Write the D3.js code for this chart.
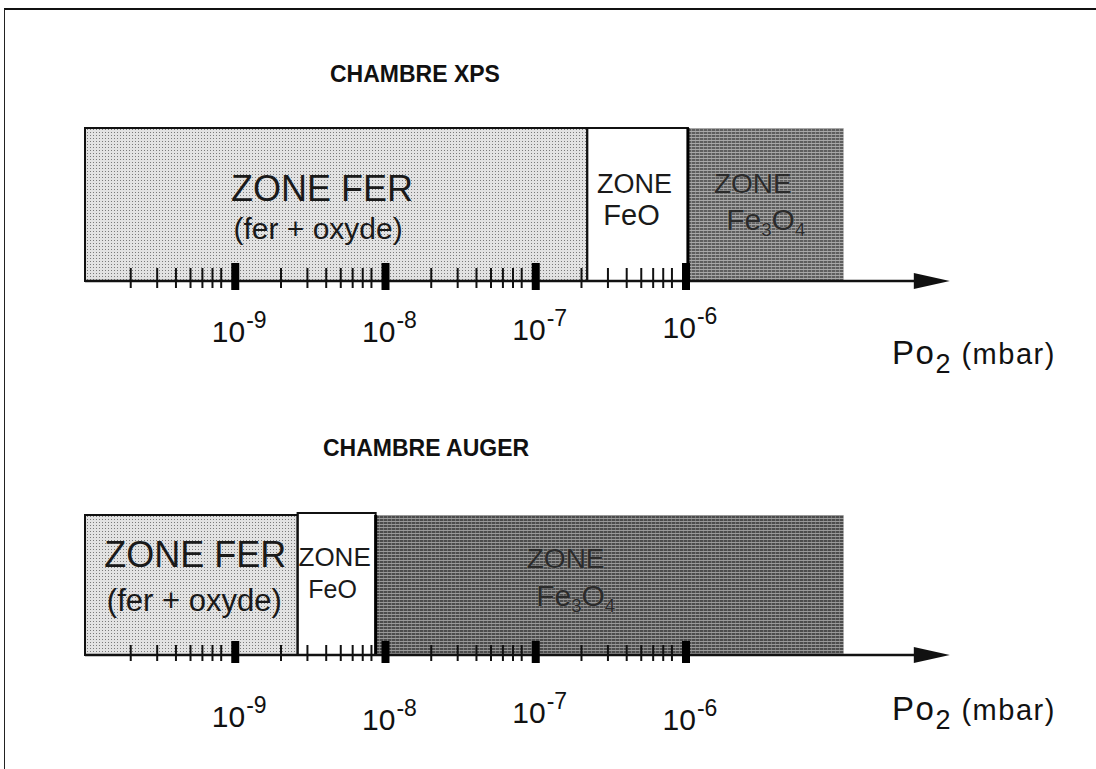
<!DOCTYPE html>
<html><head><meta charset="utf-8">
<script src="https://cdn.jsdelivr.net/npm/d3@7/dist/d3.min.js"></script>
<style>
html,body{margin:0;padding:0;background:#fff;}
svg{display:block;font-family:"Liberation Sans",Arial,Helvetica,sans-serif;}
</style></head>
<body>
<svg id="c" width="1096" height="769"></svg>
<script>
// ---- data ----
const chamberTitles = ["CHAMBRE XPS", "CHAMBRE AUGER"];
const zoneNames = ["FER", "FeO", "Fe3O4"];
const xpsBounds = [1e-10, 2.2e-7, 1.03e-6, 1.12e-5];      // zone limits, Po2 (mbar)
const augerBounds = [1e-10, 2.6e-9, 8.6e-9, 1.12e-5];
const majorTicks = [1e-9, 1e-8, 1e-7, 1e-6];
const majorExponents = ["-9", "-8", "-7", "-6"];
const minorMultipliers = [2, 3, 4, 5, 6, 7, 8];
const minorDecades = [1e-10, 1e-9, 1e-8, 1e-7];
const axisEnd = 5.7e-5;
const axisLabel = ["Po", "2", " (mbar)"];

// ---- setup ----
const svg = d3.select("#c");
const x = d3.scaleLog().domain([1e-10, 1e-6]).range([85, 686]);
const minorTicks = minorDecades.flatMap(d => minorMultipliers.map(m => d * m));

const defs = svg.append("defs");
const pl = defs.append("pattern").attr("id", "light").attr("width", 3).attr("height", 3).attr("patternUnits", "userSpaceOnUse");
pl.append("rect").attr("width", 3).attr("height", 3).attr("fill", "#e2e2e2");
pl.append("rect").attr("width", 1).attr("height", 1).attr("fill", "#7a7a7a");
const pd = defs.append("pattern").attr("id", "dark1").attr("width", 4).attr("height", 3).attr("patternUnits", "userSpaceOnUse");
pd.append("rect").attr("width", 4).attr("height", 3).attr("fill", "#5e5e5e");
pd.append("rect").attr("y", 2).attr("width", 4).attr("height", 1).attr("fill", "#a8a8a8");
pd.append("rect").attr("x", 3).attr("width", 1).attr("height", 2).attr("fill", "#8a8a8a");
const pd2 = defs.append("pattern").attr("id", "dark2").attr("width", 4).attr("height", 3).attr("patternUnits", "userSpaceOnUse");
pd2.append("rect").attr("width", 4).attr("height", 3).attr("fill", "#4c4c4c");
pd2.append("rect").attr("y", 2).attr("width", 4).attr("height", 1).attr("fill", "#999");
pd2.append("rect").attr("x", 3).attr("width", 1).attr("height", 2).attr("fill", "#747474");

// outer frame
svg.append("line").attr("x1", 4).attr("x2", 1096).attr("y1", 9).attr("y2", 9).attr("stroke", "#111").attr("stroke-width", 2);
svg.append("line").attr("x1", 4.5).attr("x2", 4.5).attr("y1", 9).attr("y2", 769).attr("stroke", "#222").attr("stroke-width", 1);

function panel(cfg) {
  const g = svg.append("g");
  g.append("text").attr("x", cfg.titleX).attr("y", cfg.titleY)
    .attr("font-size", 23).attr("font-weight", "bold").attr("fill", "#111").text(cfg.title);

  const fills = ["url(#light)", "#fff", cfg.darkFill];
  const zones = zoneNames.map((n, i) => ({ name: n, x0: cfg.bounds[i], x1: cfg.bounds[i + 1], fill: fills[i], i }));
  g.selectAll("rect.zone").data(zones).enter().append("rect")
    .attr("class", "zone")
    .attr("x", d => x(d.x0)).attr("width", d => x(d.x1) - x(d.x0))
    .attr("y", d => d.i === 1 ? cfg.top - cfg.feoRaise : cfg.top)
    .attr("height", d => cfg.axisY - cfg.top + (d.i === 1 ? cfg.feoRaise : 0))
    .attr("fill", d => d.fill);
  g.append("rect").attr("x", x(cfg.bounds[0])).attr("y", cfg.top)
    .attr("width", x(cfg.bounds[1]) - x(cfg.bounds[0])).attr("height", cfg.axisY - cfg.top)
    .attr("fill", "none").attr("stroke", "#111").attr("stroke-width", 2);
  g.append("rect").attr("x", x(cfg.bounds[1])).attr("y", cfg.top - cfg.feoRaise)
    .attr("width", x(cfg.bounds[2]) - x(cfg.bounds[1])).attr("height", cfg.axisY - cfg.top + cfg.feoRaise)
    .attr("fill", "none").attr("stroke", "#111").attr("stroke-width", 2);
  g.append("line").attr("x1", x(cfg.bounds[2])).attr("x2", x(cfg.bounds[2]))
    .attr("y1", cfg.top).attr("y2", cfg.axisY).attr("stroke", "#000").attr("stroke-width", 3);

  const lab = (zi, lines) => {
    const cx = (x(cfg.bounds[zi]) + x(cfg.bounds[zi + 1])) / 2;
    lines.forEach(l => {
      const t = g.append("text").attr("x", cx + l.dx).attr("y", l.y).attr("text-anchor", "middle")
        .attr("font-size", l.fs).attr("fill", l.fill || "#1a1a1a");
      if (l.stroke) t.attr("stroke", l.stroke).attr("stroke-width", 0.7).attr("paint-order", "stroke");
      l.parts.forEach(p => {
        const s = t.append("tspan").text(p.t);
        if (p.small) s.attr("font-size", l.fs * 0.62);
        if (p.dy) s.attr("dy", p.dy);
      });
    });
  };
  cfg.labels.forEach(l => lab(l.zone, l.lines));

  g.append("line").attr("x1", x(cfg.bounds[0])).attr("x2", x(axisEnd) - 30)
    .attr("y1", cfg.axisY).attr("y2", cfg.axisY).attr("stroke", "#111").attr("stroke-width", 2.5);
  const ax = x(axisEnd);
  g.append("path").attr("d", `M${ax},${cfg.axisY} L${ax - 36},${cfg.axisY - 8} L${ax - 36},${cfg.axisY + 8} Z`).attr("fill", "#111");

  const minorAxis = d3.axisBottom(x).tickValues(minorTicks).tickSize(cfg.minorLen).tickFormat("");
  const ag = g.append("g").attr("transform", `translate(0,${cfg.axisY - cfg.minorUp})`).call(minorAxis);
  ag.select(".domain").remove();
  ag.selectAll(".tick line").attr("stroke", "#111").attr("stroke-width", 2);

  g.selectAll("rect.major").data(majorTicks).enter().append("rect")
    .attr("class", "major")
    .attr("x", d => x(d) - 4).attr("width", 8)
    .attr("y", cfg.axisY - cfg.majorUp).attr("height", cfg.majorLen)
    .attr("fill", "#000");

  const tl = g.selectAll("text.tl").data(majorTicks).enter().append("text")
    .attr("class", "tl")
    .attr("x", d => x(d) + 4).attr("y", (d, i) => cfg.labelY[i])
    .attr("text-anchor", "middle").attr("font-size", 30).attr("fill", "#111");
  tl.append("tspan").text("10");
  tl.append("tspan").attr("font-size", 23).attr("dx", 1).attr("dy", -14).text((d, i) => majorExponents[i]);

  const at = g.append("text").attr("x", cfg.unitX).attr("y", cfg.unitY).attr("fill", "#111")
    .attr("font-size", 33).attr("letter-spacing", 1.5);
  at.append("tspan").text(axisLabel[0]);
  at.append("tspan").attr("font-size", 27).attr("dy", 9).text(axisLabel[1]);
  at.append("tspan").attr("font-size", 29).attr("dy", -9).text(axisLabel[2]);
}

panel({
  title: chamberTitles[0], titleX: 330, titleY: 82,
  bounds: xpsBounds, top: 128, axisY: 281, feoRaise: 0, darkFill: "url(#dark1)",
  minorUp: 13, minorLen: 20, majorUp: 18, majorLen: 27,
  labelY: [342, 342, 340, 338], unitX: 892, unitY: 364,
  labels: [
    { zone: 0, lines: [
      { y: 201, fs: 36, dx: -14, parts: [{ t: "ZONE FER" }] },
      { y: 239, fs: 30, dx: -18, parts: [{ t: "(fer + oxyde)" }] }] },
    { zone: 1, lines: [
      { y: 193, fs: 27, dx: -3, parts: [{ t: "ZONE" }] },
      { y: 225, fs: 29, dx: -6, parts: [{ t: "FeO" }] }] },
    { zone: 2, lines: [
      { y: 193, fs: 28, dx: -13, fill: "#2b2b2b", stroke: "#9a9a9a", parts: [{ t: "ZONE" }] },
      { y: 230, fs: 30, dx: 0, fill: "#2b2b2b", stroke: "#9a9a9a",
        parts: [{ t: "Fe" }, { t: "3", small: true, dy: 6 }, { t: "O", dy: -6 }, { t: "4", small: true, dy: 6 }] }] }
  ]
});

panel({
  title: chamberTitles[1], titleX: 323, titleY: 456,
  bounds: augerBounds, top: 515, axisY: 655, feoRaise: 2, darkFill: "url(#dark2)",
  minorUp: 10, minorLen: 16, majorUp: 14, majorLen: 22,
  labelY: [727, 730, 723, 730], unitX: 892, unitY: 720,
  labels: [
    { zone: 0, lines: [
      { y: 567, fs: 36, dx: 4, parts: [{ t: "ZONE FER" }] },
      { y: 611, fs: 31, dx: 3, parts: [{ t: "(fer + oxyde)" }] }] },
    { zone: 1, lines: [
      { y: 566, fs: 26, dx: -2, parts: [{ t: "ZONE" }] },
      { y: 598, fs: 25, dx: -4, parts: [{ t: "FeO" }] }] },
    { zone: 2, lines: [
      { y: 568, fs: 28, dx: -44, fill: "#2b2b2b", stroke: "#8a8a8a", parts: [{ t: "ZONE" }] },
      { y: 606, fs: 30, dx: -34, fill: "#2b2b2b", stroke: "#8a8a8a",
        parts: [{ t: "Fe" }, { t: "3", small: true, dy: 6 }, { t: "O", dy: -6 }, { t: "4", small: true, dy: 6 }] }] }
  ]
});
</script>
</body></html>
